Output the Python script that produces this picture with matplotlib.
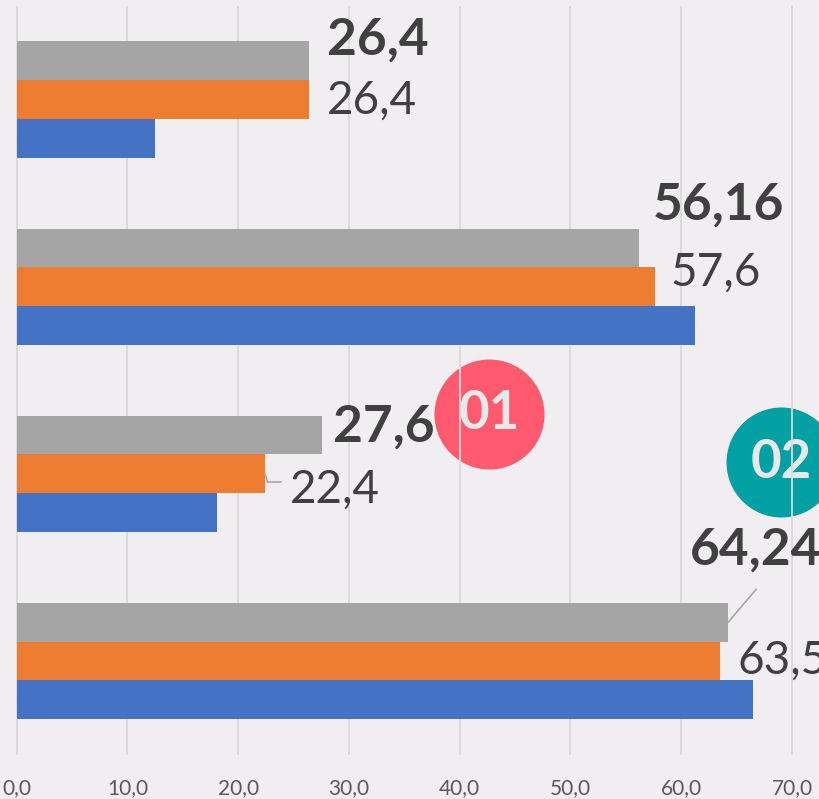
import matplotlib
matplotlib.use("Agg")
import matplotlib.pyplot as plt
import numpy as np

# ---- data (groups listed top to bottom) ----
groups = ["A", "B", "C", "D"]
gray_vals = [26.4, 56.16, 27.6, 64.24]
orange_vals = [26.4, 57.6, 22.4, 63.5]
blue_vals = [12.5, 61.2, 18.1, 66.5]
xticks = [0, 10, 20, 30, 40, 50, 60, 70]
badges = ["01", "02"]

def fmt(v):
    s = f"{v:.2f}".rstrip("0").rstrip(".") if abs(v * 10 - round(v * 10)) > 1e-9 else f"{v:.1f}"
    return s.replace(".", ",")

BG = "#F0EEF1"
plt.rcParams["font.family"] = ["Lato", "DejaVu Sans"]

fig = plt.figure(figsize=(8.2, 7.99), dpi=100, facecolor=BG)
ax = fig.add_axes([0, 1 - 754.5 / 799, 1, (754.5 - 6) / 799])
ax.set_facecolor(BG)

pxu = (792 - 16.7) / 70.0
ax.set_xlim(-16.7 / pxu, (820 - 16.7) / pxu)
ax.set_ylim(3.5, -0.5)

y = np.arange(len(groups))
h = 38.7 / 187.0
ax.barh(y - h, gray_vals, height=h, color="#A5A5A5", zorder=2)
ax.barh(y, orange_vals, height=h, color="#ED7D31", zorder=2)
ax.barh(y + h, blue_vals, height=h, color="#4472C4", zorder=2)

ax.set_axisbelow(True)
ax.grid(axis="x", color="#D9D9D9", linewidth=1.3, zorder=0.5)
ax.grid(axis="y", visible=False)
ax.set_xticks(xticks)
ax.set_xticklabels([f"{t:.1f}".replace(".", ",") for t in xticks], fontsize=15, color="#595959")
ax.tick_params(axis="x", length=0, pad=17)
ax.set_yticks([])
for s in ax.spines.values():
    s.set_visible(False)

# label offsets in pixels (dx right, dy up) from bar end
gray_off = [(18, 21), (14, 43), (11, 8), (-38, 72)]
orange_off = [(18, -1), (16, 14), (25, -16), (17, 0)]

lab_col = "#404040"
for i in range(len(groups)):
    ax.annotate(fmt(gray_vals[i]), xy=(gray_vals[i], y[i] - h), xytext=gray_off[i],
                textcoords="offset pixels", ha="left", va="center", fontsize=37,
                fontweight="bold", color=lab_col, zorder=4)
    ax.annotate(fmt(orange_vals[i]), xy=(orange_vals[i], y[i]), xytext=orange_off[i],
                textcoords="offset pixels", ha="left", va="center", fontsize=33,
                color=lab_col, zorder=4)

lead = dict(arrowstyle="-", color="#A6A6A6", lw=1.2, shrinkA=0, shrinkB=0)
# leader for last gray label
ax.annotate("", xy=(gray_vals[3], y[3] - h), xytext=(28, 33), textcoords="offset pixels",
            arrowprops=lead, zorder=3)
# leader for third orange label
ax.annotate("", xy=(orange_vals[2], y[2]), xytext=(3, -8.5), textcoords="offset pixels",
            arrowprops=lead, zorder=3)
x0 = ax.transData.transform((orange_vals[2], y[2]))
p1 = ax.transData.inverted().transform((x0[0] + 3, x0[1] - 8.5))
p2 = ax.transData.inverted().transform((x0[0] + 16, x0[1] - 8.5))
ax.plot([p1[0], p2[0]], [p1[1], p2[1]], color="#A6A6A6", lw=1.2, zorder=3)

# badges
badge_pos = [((489.5 - 16.7) / pxu, (413.5 - 6) / 187 - 0.5, "#FF5A6E"),
             ((781 - 16.7) / pxu, (462 - 6) / 187 - 0.5, "#00A0A3")]
diam_pt = 110 * 72 / 100
for txt, (bx, by, col) in zip(badges, badge_pos):
    ax.scatter([bx], [by], s=diam_pt ** 2, color=col, zorder=0.2, linewidths=0, clip_on=False)
    ax.text(bx, by, txt, ha="center", va="center", fontsize=38, fontweight="bold",
            color="#E8E8E8", zorder=0.3)

fig.savefig("out.png", dpi=100, facecolor=BG)
